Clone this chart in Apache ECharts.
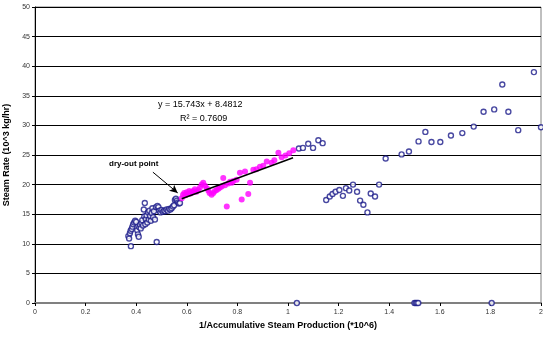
<!DOCTYPE html>
<html>
<head>
<meta charset="utf-8">
<script src="https://cdn.jsdelivr.net/npm/echarts@6/dist/echarts.min.js"></script>
<style>
  html, body { margin: 0; padding: 0; background: #fff; }
  #chart { width: 543px; height: 341px; }
</style>
</head>
<body>
<div id="chart"></div>
<script>
// blue hollow points, low cluster (before dry-out)
var blueLow = [
  [0.369, 11.3], [0.372, 10.9], [0.375, 11.8], [0.379, 9.6], [0.378, 12.2], [0.382, 12.5],
  [0.385, 12.9], [0.388, 13.3], [0.392, 13.6], [0.396, 13.9], [0.400, 13.7], [0.404, 12.3],
  [0.407, 11.6], [0.410, 11.2], [0.412, 12.8], [0.415, 13.2], [0.418, 12.6], [0.421, 13.5],
  [0.424, 14.0], [0.427, 13.1], [0.430, 15.8], [0.432, 14.6], [0.434, 16.9], [0.436, 13.3],
  [0.438, 14.2], [0.441, 14.8], [0.444, 13.6], [0.447, 15.3], [0.450, 14.1], [0.452, 15.6],
  [0.455, 14.7], [0.458, 13.9], [0.461, 15.2], [0.464, 16.0], [0.467, 14.5], [0.470, 15.5],
  [0.474, 14.1], [0.478, 16.2], [0.481, 10.3], [0.484, 16.4], [0.488, 16.2], [0.492, 15.6],
  [0.496, 15.3], [0.500, 15.7], [0.505, 15.4], [0.510, 15.6], [0.515, 15.5], [0.520, 15.8],
  [0.525, 15.6], [0.530, 15.9], [0.535, 15.8], [0.540, 16.0], [0.545, 16.3], [0.550, 16.5],
  [0.553, 17.4], [0.557, 17.6], [0.561, 17.3], [0.565, 17.0], [0.569, 16.8], [0.573, 16.9]
];
// blue hollow points, after magenta range
var blueHigh = [
  [1.043, 26.1], [1.059, 26.2], [1.080, 26.9], [1.099, 26.2], [1.120, 27.5], [1.137, 27.0],
  [1.151, 17.4], [1.165, 18.0], [1.176, 18.4], [1.188, 18.8], [1.203, 19.1], [1.217, 18.1],
  [1.229, 19.4], [1.242, 19.0], [1.257, 20.0], [1.273, 18.8], [1.285, 17.3], [1.298, 16.6],
  [1.314, 15.3], [1.327, 18.5], [1.344, 18.0], [1.360, 20.0], [1.386, 24.4], [1.449, 25.1],
  [1.478, 25.6], [1.516, 27.3], [1.543, 28.9], [1.567, 27.2], [1.602, 27.2], [1.644, 28.3],
  [1.689, 28.7], [1.734, 29.8], [1.773, 32.3], [1.815, 32.7], [1.847, 36.9], [1.871, 32.3],
  [1.910, 29.2], [1.972, 39.0], [2.0, 29.7]
];
var blueZero = [[1.035, 0], [1.500, 0], [1.505, 0], [1.510, 0], [1.515, 0], [1.805, 0]];
// magenta filled points
var magenta = [
  [0.580, 17.7], [0.585, 18.3], [0.590, 18.6], [0.595, 18.2], [0.600, 18.7], [0.605, 18.4],
  [0.610, 18.9], [0.615, 18.5], [0.620, 18.8], [0.626, 18.9], [0.632, 19.2], [0.638, 18.8],
  [0.645, 19.1], [0.652, 19.5], [0.659, 20.0], [0.665, 20.3], [0.672, 19.8], [0.679, 19.4],
  [0.685, 19.0], [0.690, 18.6], [0.698, 18.3], [0.705, 18.6], [0.711, 18.9], [0.718, 19.1],
  [0.725, 19.3], [0.731, 19.5], [0.738, 19.7], [0.744, 21.1], [0.751, 19.9], [0.758, 16.3],
  [0.764, 20.2], [0.771, 20.5], [0.778, 20.3], [0.784, 20.6], [0.797, 20.8], [0.810, 22.0],
  [0.817, 17.5], [0.830, 22.2], [0.843, 18.4], [0.850, 20.3], [0.863, 22.5], [0.875, 22.6],
  [0.889, 23.0], [0.902, 23.2], [0.916, 23.9], [0.935, 23.7], [0.946, 24.1], [0.962, 25.4],
  [0.975, 24.6], [0.990, 24.9], [1.005, 25.3], [1.021, 25.8]
];
// linear trendline y = a*x + b over magenta range
var trendA = 15.743, trendB = 8.4812;
var trendX = [0.58, 1.02];
var arrowFrom = [0.466, 22.1], arrowTo = [0.564, 18.6];

var trend = [];
for (var i = 0; i < trendX.length; i++) {
  trend.push([trendX[i], trendA * trendX[i] + trendB]);
}

var font = "Liberation Sans, Arial, sans-serif";
var navy = "#1a1a8a";
var hollow = {
  type: "scatter",
  symbol: "circle",
  symbolSize: 5,
  itemStyle: { color: "#fff", borderColor: navy, borderWidth: 1.4 },
  z: 3
};

var myChart = echarts.init(document.getElementById("chart"));
var option = {
  animation: false,
  grid: {
    left: 35, right: 2, top: 7, bottom: 38,
    outerBoundsMode: "none", containLabel: false,
    show: true, borderColor: "#808080", borderWidth: 1
  },
  xAxis: {
    type: "value", min: 0, max: 2, interval: 0.2,
    name: "1/Accumulative Steam Production (*10^6)",
    nameLocation: "middle", nameGap: 15,
    nameTextStyle: { fontFamily: font, fontSize: 9, fontWeight: "bold", color: "#000" },
    axisLine: { lineStyle: { color: "#808080", width: 2 } },
    axisTick: { show: true, length: 3, lineStyle: { color: "#000" } },
    axisLabel: { fontFamily: font, fontSize: 7, color: "#333", margin: 6 },
    splitLine: { show: false }
  },
  yAxis: {
    type: "value", min: 0, max: 50, interval: 5,
    name: "Steam Rate (10^3 kg/hr)",
    nameLocation: "middle", nameGap: 14,
    nameTextStyle: { fontFamily: font, fontSize: 9, fontWeight: "bold", color: "#000" },
    axisLine: { show: true, lineStyle: { color: "#000", width: 1 } },
    axisTick: { show: true, length: 3, lineStyle: { color: "#000" } },
    axisLabel: { fontFamily: font, fontSize: 7, color: "#333", margin: 5 },
    splitLine: { show: true, lineStyle: { color: "#000", width: 1 } }
  },
  series: [
    Object.assign({}, hollow, { data: blueLow }),
    Object.assign({}, hollow, { data: blueHigh }),
    Object.assign({}, hollow, { data: blueZero }),
    {
      type: "scatter", symbol: "circle", symbolSize: 6,
      itemStyle: { color: "#ff00ff" },
      data: magenta, z: 3
    },
    {
      type: "line", data: trend, symbol: "none", z: 4,
      lineStyle: { color: "#000", width: 1.5 },
      markLine: {
        silent: true, symbol: ["none", "arrow"], symbolSize: [6, 8],
        lineStyle: { color: "#000", width: 1, type: "solid" },
        label: { show: false },
        data: [[{ coord: arrowFrom }, { coord: arrowTo }]]
      }
    }
  ],
  graphic: [
    { type: "text", left: 158, top: 100, style: { text: "y = 15.743x + 8.4812", font: "9px " + font, fill: "#000" } },
    { type: "text", left: 180, top: 114, style: { text: "R\u00B2 = 0.7609", font: "9px " + font, fill: "#000" } },
    { type: "text", left: 109, top: 160, style: { text: "dry-out point", font: "bold 8px " + font, fill: "#000" } }
  ]
};
myChart.setOption(option);
</script>
</body>
</html>
